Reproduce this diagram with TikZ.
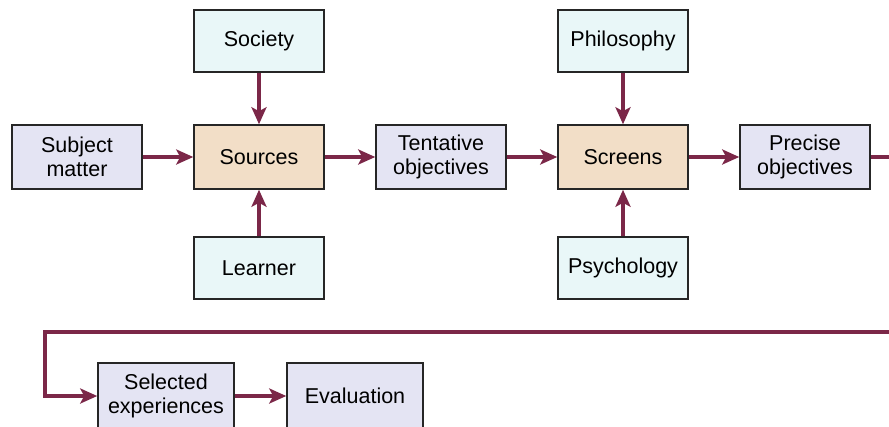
\documentclass[tikz,border=0pt]{standalone}
\usepackage{fontspec}
\setmainfont{Liberation Sans}
\usepackage{xcolor}
\usepackage{tikz}
\usetikzlibrary{positioning,arrows.meta}

\definecolor{arrowred}{HTML}{7B2748}
\definecolor{lavender}{HTML}{E4E4F3}
\definecolor{paleblue}{HTML}{E9F7F8}
\definecolor{tanbox}{HTML}{F2DEC7}

\begin{document}
\begin{tikzpicture}[
	x=1pt, y=1pt,
	>={Stealth[length=17pt,width=15pt,inset=4pt]},
	node distance=50.5pt,
	box/.style={
		rectangle,
		draw=black!85,
		line width=1.5pt,
		align=center,
		minimum width=130pt,
		minimum height=64pt,
		inner sep=2pt,
		font=\fontsize{21.5}{24}\selectfont
	},
	mainbox/.style={box, fill=lavender},
	inputbox/.style={box, fill=paleblue, minimum height=62pt},
	screenbox/.style={box, fill=tanbox},
	flow/.style={->, draw=arrowred, line width=3.4pt}
	]
	
	\clip (0,0) rectangle (889,-426);
	\useasboundingbox (0,0) rectangle (889,-426);
	
	% first row
	\node[screenbox] (sources) at (259,-157) {Sources};
	\node[mainbox] (subject) [left=of sources] {Subject\\matter};
	\node[mainbox] (tentative) [right=of sources] {Tentative\\objectives};
	\node[screenbox] (screens) [right=of tentative] {Screens};
	\node[mainbox] (precise) [right=of screens] {Precise\\objectives};
	
	% inputs to the two screens
	\node[inputbox] (society) [above=51.5pt of sources] {Society};
	\node[inputbox] (learner) [below=46.5pt of sources] {Learner};
	\node[inputbox] (philosophy) [above=51.5pt of screens] {Philosophy};
	\node[inputbox] (psychology) [below=46.5pt of screens] {Psychology};
	
	% second row
	\node[mainbox, minimum width=136pt, minimum height=66pt] (selected) at (166,-396) {Selected\\experiences};
	\node[mainbox, minimum width=136pt, minimum height=66pt] (evaluation) [right=51.5pt of selected] {Evaluation};
	
	\coordinate (turnR) at (900,-332);
	\coordinate (turnL) at (45,-332);
	
	\draw[flow] (subject) -- (sources);
	\draw[flow] (society) -- (sources);
	\draw[flow] (learner) -- (sources);
	\draw[flow] (sources) -- (tentative);
	\draw[flow] (tentative) -- (screens);
	\draw[flow] (philosophy) -- (screens);
	\draw[flow] (psychology) -- (screens);
	\draw[flow] (screens) -- (precise);
	\draw[flow] (precise.east) -| (turnR) -- (turnL) |- (selected.west);
	\draw[flow] (selected) -- (evaluation);
	
\end{tikzpicture}
\end{document}
